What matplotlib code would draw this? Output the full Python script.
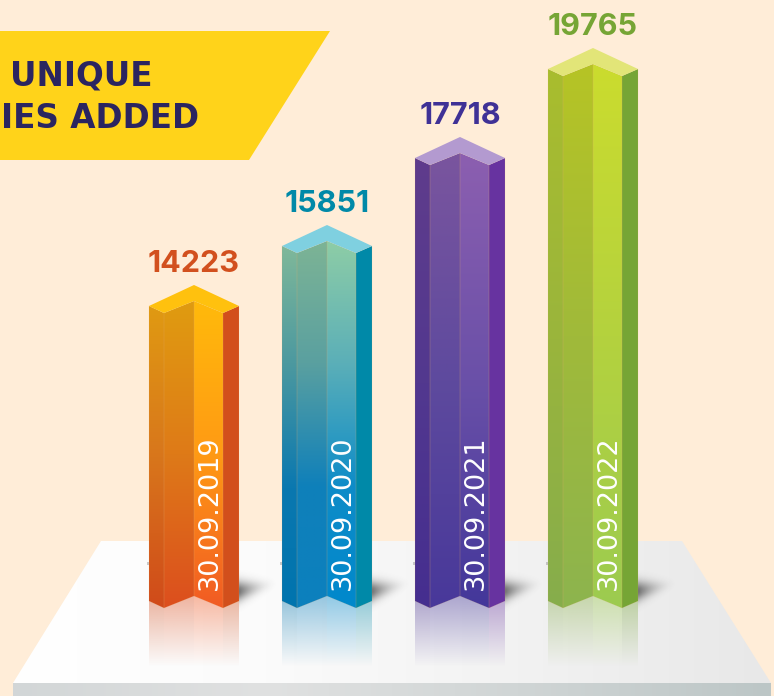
import numpy as np
import matplotlib
matplotlib.use("Agg")
from matplotlib import pyplot as plt
from matplotlib.colors import LinearSegmentedColormap, to_rgb
from matplotlib.patches import Polygon

# data
dates = ["30.09.2019", "30.09.2020", "30.09.2021", "30.09.2022"]
values = [14223, 15851, 17718, 19765]
label_colors = ["#D2501E", "#0089A8", "#3F3196", "#76A535"]

# the picture's bars are not drawn to a linear scale, so the y axis follows them
scale_values = [0, 14223, 15851, 17718, 19765, 25000]
scale_heights = [0, 295, 355, 443, 532, 780]

# gradient stops (top to bottom) for each of the faces
face_a = [["#E09A12", "#D8761C", "#D04A1A"], ["#7FB89A", "#4A98A0", "#0A78B0", "#0074AE"],
          ["#5F3C8C", "#52388F", "#452E8F"], ["#A9BD2E", "#9AB53C", "#86AD4C"]]
face_b = [["#E09C10", "#DE7A18", "#DC4E1E"], ["#7DB495", "#5AA0A0", "#0F80BA", "#0C80BE"],
          ["#7A559E", "#5E4A9E", "#48389A"], ["#B6C425", "#A0BA3A", "#8DB44E"]]
face_c = [["#FFBA0B", "#FF9A14", "#F15A24"], ["#8ECDA6", "#5BAFB8", "#0E8CC8", "#0088CC"],
          ["#8C5FB0", "#6A50A8", "#43379A"], ["#CBDC2E", "#B4D23E", "#9CCB50"]]
face_d = ["#D24F1C", "#0089A8", "#6733A0", "#76A535"]
top_face = ["#FFC10E", "#7FD0E0", "#B39AD0", "#E2E578"]

W, H = 774, 696
base_y = 601
bg_color = "#FFEDD8"

fig = plt.figure(figsize=(W / 100, H / 100), dpi=100, facecolor=bg_color)

# pixel canvas for the artwork
ax = fig.add_axes([0, 0, 1, 1])
ax.set_xlim(0, W)
ax.set_ylim(H, 0)
ax.axis("off")

# value axes, only used for its scales
data_ax = fig.add_axes([149 / W + 45 / W, (H - base_y) / H, 133 / W * 3, 532 / H])
fwd = lambda v: np.interp(v, scale_values, scale_heights)
inv = lambda h: np.interp(h, scale_heights, scale_values)
data_ax.set_yscale("function", functions=(fwd, inv))
data_ax.set_xlim(0, 3)
data_ax.set_ylim(0, 19765)
data_ax.axis("off")


def grad(stops, x0, x1, y0, y1, clip=None, horizontal=False, zorder=3):
    cmap = LinearSegmentedColormap.from_list("g", stops)
    arr = np.linspace(0, 1, 256)
    arr = arr[None, :] if horizontal else arr[:, None]
    im = ax.imshow(arr, cmap=cmap, extent=(x0, x1, y1, y0), origin="upper",
                   aspect="auto", zorder=zorder, interpolation="bilinear")
    if clip is not None:
        p = Polygon(clip, closed=True, transform=ax.transData, fc="none", ec="none")
        ax.add_patch(p)
        im.set_clip_path(p)
    return im


def fade(color, x0, x1, y0, y1, a0, a1, zorder=2):
    n = 128
    img = np.zeros((n, 1, 4))
    img[..., :3] = to_rgb(color)
    img[..., 3] = np.linspace(a0, a1, n)[:, None]
    ax.imshow(img, extent=(x0, x1, y1, y0), origin="upper", aspect="auto",
              zorder=zorder, interpolation="bilinear")


def soft_shadow(x0):
    # dark at the bar's edge, narrowing towards the upper right
    u, v = np.meshgrid(np.linspace(0, 1, 80), np.linspace(570, 612, 80))
    centre = 591 - 8 * u
    width = 10 - 6 * u
    img = np.zeros((80, 80, 4))
    img[..., :3] = to_rgb("#3A3A3A")
    img[..., 3] = 0.7 * (1 - u) ** 2 * np.exp(-((v - centre) / width) ** 2)
    ax.imshow(img, extent=(x0, x0 + 40, 612, 570), origin="upper", aspect="auto",
              zorder=2, interpolation="bilinear")


# banner
ax.add_patch(Polygon([(0, 31), (330, 31), (249, 160), (0, 160)], fc="#FFD31A", ec="none", zorder=1))
ax.text(10, 76, "UNIQUE", fontsize=23.5, fontweight="bold", family="DejaVu Sans", color="#2B2560", va="center", ha="left", zorder=2)
ax.text(199, 118, "IES ADDED", fontsize=23.5, fontweight="bold", family="DejaVu Sans", color="#2B2560", va="center", ha="right", zorder=2)

# platform
platform = [(101, 541), (682, 541), (771, 683), (13, 683)]
grad(["#FFFFFF", "#FBFBFB", "#F2F2F2", "#E8E8E8"], 13, 771, 541, 683, clip=platform, horizontal=True, zorder=1)
grad(["#D2D6D7", "#E0E1E1", "#D0D5D5", "#BCC6C6"], 13, 771, 683, 696, horizontal=True, zorder=1)

fig.canvas.draw()
for i, (d, v) in enumerate(zip(dates, values)):
    # position of the bar from the value axes, back to artwork pixels
    cx, top = ax.transData.inverted().transform(data_ax.transData.transform((i, v)))
    xs = [cx - 45, cx - 30, cx, cx + 29, cx + 45]

    # reflection on the platform, starts behind the bar's lower edge
    colors = [face_a[i][-1], face_b[i][-1], face_c[i][-1], face_d[i]]
    for k in range(4):
        fade(colors[k], xs[k], xs[k + 1], 590, 667, 0.45, 0.0, zorder=2)

    soft_shadow(xs[4])
    fade("#999999", xs[0] - 2, xs[0], 562, 565, 0.5, 0.5, zorder=2)

    # faces, the notch drops 7 px at the sides and rises 5 px at the middle
    ofs = [0, 7, -5, 7, 0]
    poly = lambda a, b: [(xs[a], top + ofs[a]), (xs[b], top + ofs[b]),
                         (xs[b], base_y + ofs[b]), (xs[a], base_y + ofs[a])]
    grad(face_a[i], xs[0], xs[1], top, base_y + 8, clip=poly(0, 1))
    grad(face_b[i], xs[1], xs[2], top - 6, base_y + 8, clip=poly(1, 2))
    grad(face_c[i], xs[2], xs[3], top - 6, base_y + 8, clip=poly(2, 3))
    ax.add_patch(Polygon(poly(3, 4), fc=face_d[i], ec="none", zorder=3))
    # thin light edge round the faces
    for k in range(4):
        ax.add_patch(Polygon(poly(k, k + 1), fc="none", ec="#E8B070", lw=0.4, alpha=0.22, zorder=3.5))

    # top
    ax.add_patch(Polygon([(xs[0], top), (cx, top - 21), (xs[4], top), (xs[3], top + 7), (cx, top - 5), (xs[1], top + 7)],
                         fc=top_face[i], ec="none", zorder=4))

    ax.text(cx, top - 42, f"{v}", fontsize=22, fontweight="bold", family="Inter", color=label_colors[i],
            ha="center", va="center", zorder=5)
    ax.text(cx + 16, 590, d, rotation=90, fontsize=19.5, family="DejaVu Sans", color="white",
            ha="center", va="bottom", zorder=5)

fig.savefig("out.png", dpi=100, facecolor=bg_color)
